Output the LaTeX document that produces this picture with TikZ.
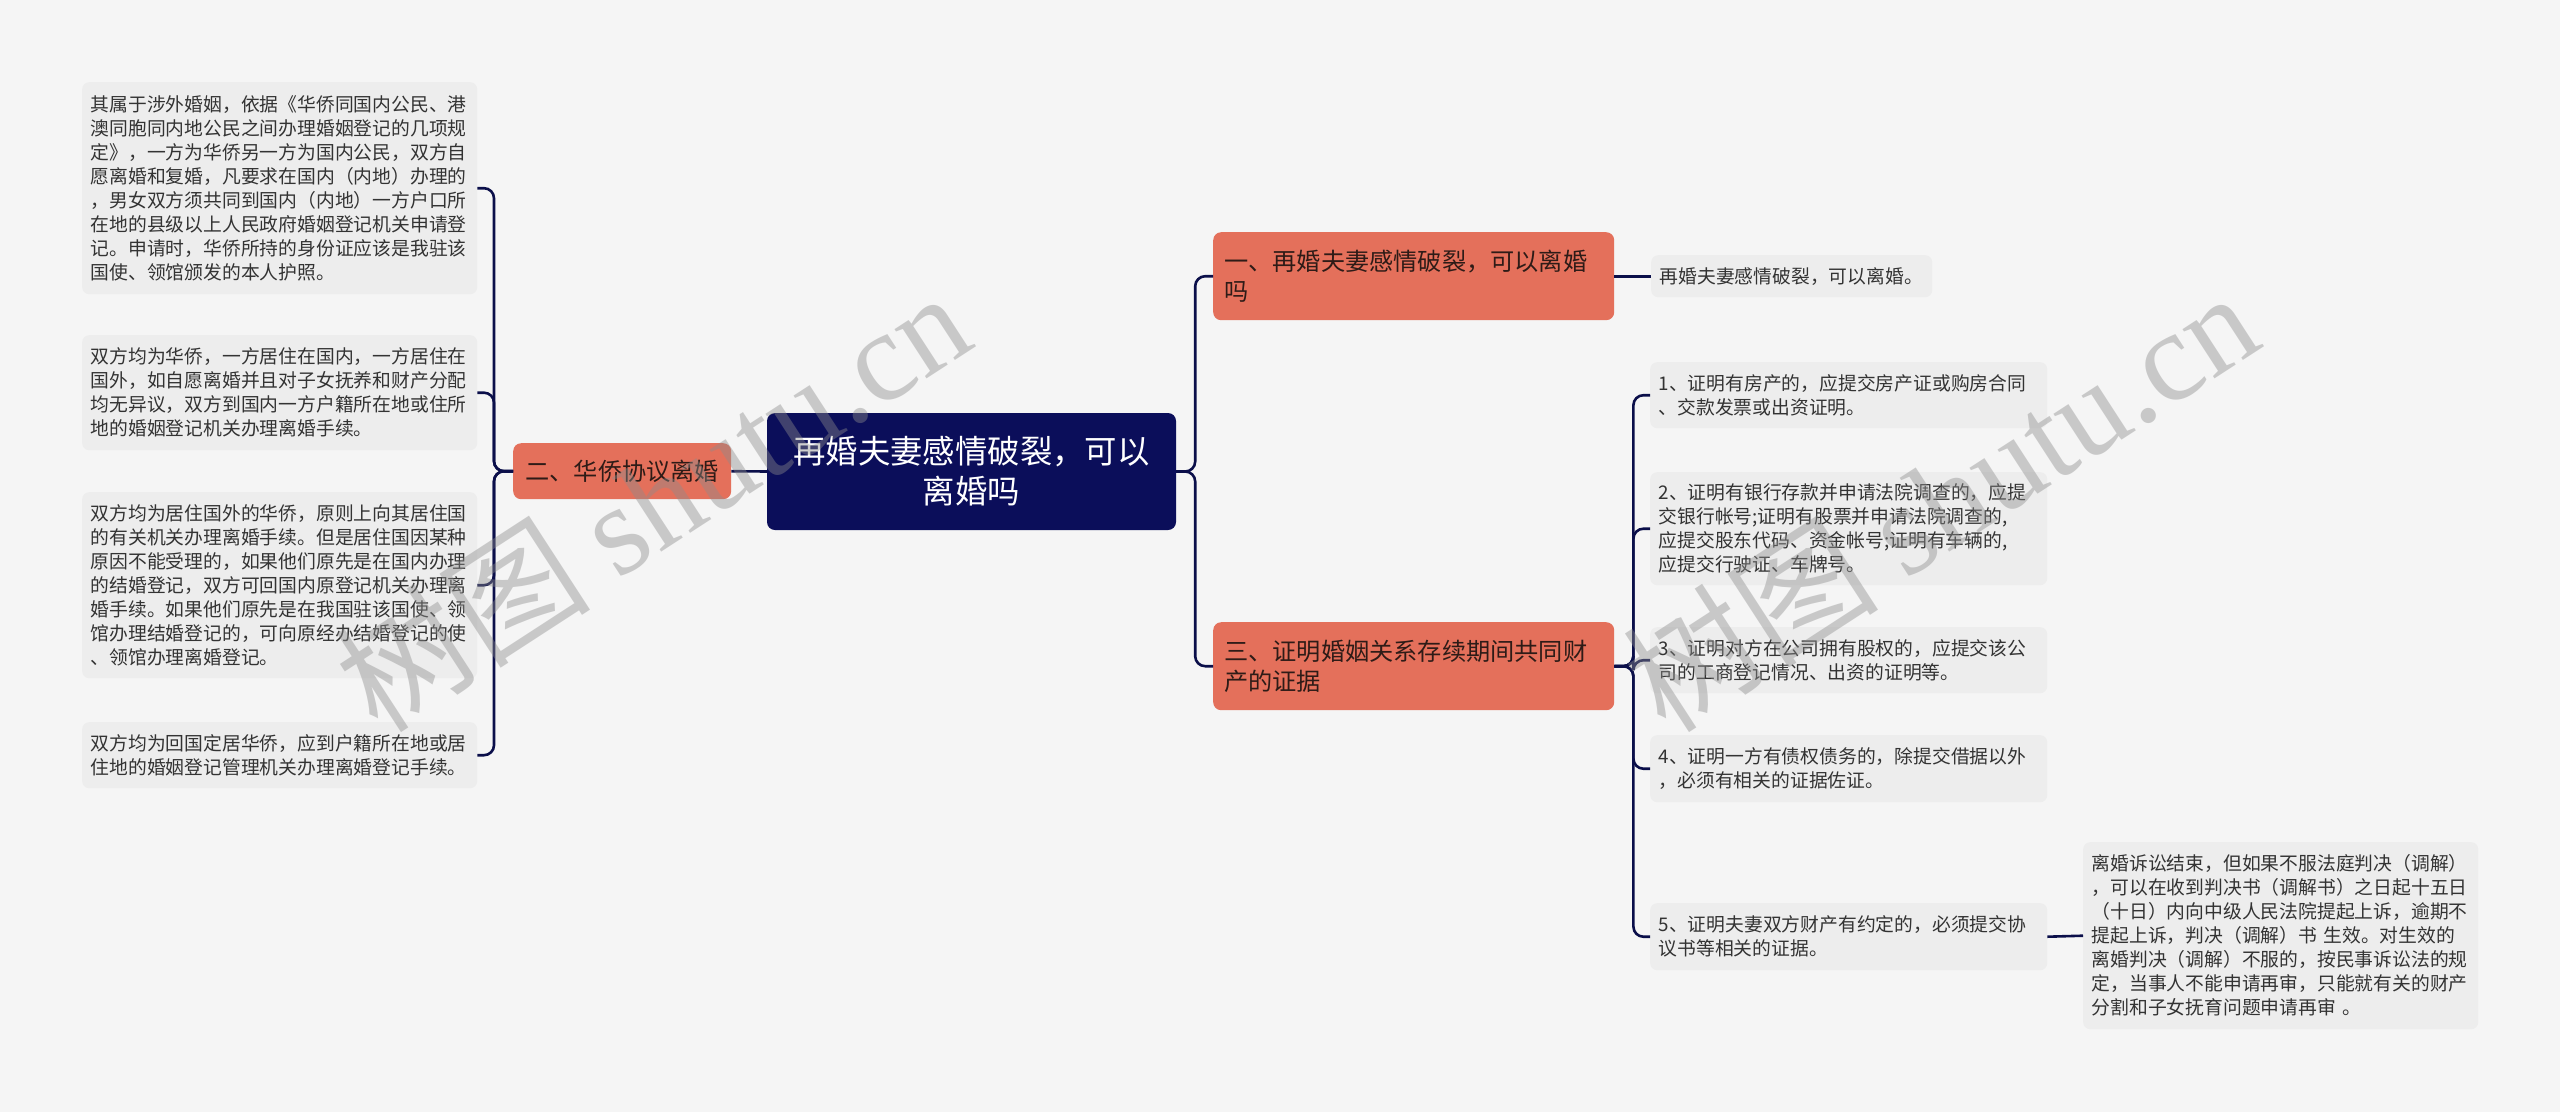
\documentclass[tikz,border=0pt]{standalone}
\usepackage{fontspec}
\setmainfont{Noto Sans CJK SC}
\newfontfamily\wmserif{Liberation Serif}
\definecolor{bgc}{HTML}{F5F5F5}
\definecolor{leafc}{HTML}{EDEDED}
\definecolor{salmon}{HTML}{E4705B}
\definecolor{navy}{HTML}{0B0E5A}
\definecolor{linec}{HTML}{0B0F4A}
\definecolor{txt}{HTML}{333333}
\definecolor{dark}{HTML}{2E1B17}
\begin{document}
\begin{tikzpicture}[x=1pt,y=-1pt,
  leafbox/.style={fill=leafc, rounded corners=7pt, anchor=north west, inner xsep=8.5pt, inner ysep=0pt,
    align=left, text=txt, font=\fontsize{18.8}{24}\selectfont},
  topic/.style={fill=salmon, rounded corners=8pt, anchor=north west, inner xsep=11pt, inner ysep=0pt,
    align=left, text=dark, font=\fontsize{24.2}{30}\selectfont},
  rootbox/.style={fill=navy, rounded corners=8pt, text=white, align=center,
    font=\fontsize{32.4}{40}\selectfont, minimum width=409pt, minimum height=117pt, inner sep=0pt},
  conn/.style={draw=linec, line width=2.6pt, rounded corners=10pt},
  wm/.style={text=black!45, opacity=0.42, rotate=33, font=\fontsize{128}{128}\selectfont, inner sep=0pt}
]
\path[fill=bgc] (0,0) rectangle (2560,1112);

% root
\node[rootbox] (C) at (971.5,471.5) {再婚夫妻感情破裂，可以\\离婚吗};

% left branch
\node[topic, minimum width=218pt, minimum height=56pt, align=center] (N2) at (513,443) {二、华侨协议离婚};

\node[leafbox, text width=378pt, minimum height=212pt] (A) at (82,82) {其属于涉外婚姻，依据《华侨同国内公民、港\\澳同胞同内地公民之间办理婚姻登记的几项规\\定》，一方为华侨另一方为国内公民，双方自\\愿离婚和复婚，凡要求在国内（内地）办理的\\，男女双方须共同到国内（内地）一方户口所\\在地的县级以上人民政府婚姻登记机关申请登\\记。申请时，华侨所持的身份证应该是我驻该\\国使、领馆颁发的本人护照。};
\node[leafbox, text width=378pt, minimum height=115pt] (B) at (82,335) {双方均为华侨，一方居住在国内，一方居住在\\国外，如自愿离婚并且对子女抚养和财产分配\\均无异议，双方到国内一方户籍所在地或住所\\地的婚姻登记机关办理离婚手续。};
\node[leafbox, text width=378pt, minimum height=186pt] (Cc) at (82,492) {双方均为居住国外的华侨，原则上向其居住国\\的有关机关办理离婚手续。但是居住国因某种\\原因不能受理的，如果他们原先是在国内办理\\的结婚登记，双方可回国内原登记机关办理离\\婚手续。如果他们原先是在我国驻该国使、领\\馆办理结婚登记的，可向原经办结婚登记的使\\、领馆办理离婚登记。};
\node[leafbox, text width=378pt, minimum height=66pt] (D) at (82,722) {双方均为回国定居华侨，应到户籍所在地或居\\住地的婚姻登记管理机关办理离婚登记手续。};

% right branch
\node[topic, text width=379pt, minimum height=88pt] (N1) at (1213,232) {一、再婚夫妻感情破裂，可以离婚\\吗};
\node[topic, text width=379pt, minimum height=88pt] (N3) at (1213,622) {三、证明婚姻关系存续期间共同财\\产的证据};

\node[leafbox, text width=264pt, minimum height=42pt] (S) at (1651,255) {再婚夫妻感情破裂，可以离婚。};

\node[leafbox, text width=380pt, minimum height=66pt] (L1) at (1650,362) {1、证明有房产的，应提交房产证或购房合同\\、交款发票或出资证明。};
\node[leafbox, text width=380pt, minimum height=113pt] (L2) at (1650,472) {2、证明有银行存款并申请法院调查的，应提\\交银行帐号;证明有股票并申请法院调查的,\\应提交股东代码、资金帐号;证明有车辆的,\\应提交行驶证、车牌号。};
\node[leafbox, text width=380pt, minimum height=66pt] (L3) at (1650,627) {3、证明对方在公司拥有股权的，应提交该公\\司的工商登记情况、出资的证明等。};
\node[leafbox, text width=380pt, minimum height=67pt] (L4) at (1650,735) {4、证明一方有债权债务的，除提交借据以外\\，必须有相关的证据佐证。};
\node[leafbox, text width=380pt, minimum height=67pt] (L5) at (1650,903) {5、证明夫妻双方财产有约定的，必须提交协\\议书等相关的证据。};

\node[leafbox, text width=378pt, minimum height=187pt] (K) at (2083,842) {离婚诉讼结束，但如果不服法庭判决（调解）\\，可以在收到判决书（调解书）之日起十五日\\（十日）内向中级人民法院提起上诉，逾期不\\提起上诉，判决（调解）书 生效。对生效的\\离婚判决（调解）不服的，按民事诉讼法的规\\定，当事人不能申请再审，只能就有关的财产\\分割和子女抚育问题申请再审 。};

% connectors
\draw[conn] (C.west) -- (N2.east);
\draw[conn] (N2.west) -- ++(-19,0) |- (A.east);
\draw[conn] (N2.west) -- ++(-19,0) |- (B.east);
\draw[conn] (N2.west) -- ++(-19,0) |- (Cc.east);
\draw[conn] (N2.west) -- ++(-19,0) |- (D.east);

\draw[conn] (C.east) -- ++(19,0) |- (N1.west);
\draw[conn] (C.east) -- ++(19,0) |- (N3.west);
\draw[conn] (N1.east) -- (S.west);

\draw[conn] (N3.east) -- ++(19,0) |- (L1.west);
\draw[conn] (N3.east) -- ++(19,0) |- (L2.west);
\draw[conn] (N3.east) -- ++(19,0) |- (L3.west);
\draw[conn] (N3.east) -- ++(19,0) |- (L4.west);
\draw[conn] (N3.east) -- ++(19,0) |- (L5.west);
\draw[conn] (L5.east) -- (K.west);

% watermarks
\node[wm] (W1) at (652,500) {树图 {\wmserif shutu.cn}};
\node[wm] (W2) at (1940,500) {树图 {\wmserif shutu.cn}};
\end{tikzpicture}
\end{document}
